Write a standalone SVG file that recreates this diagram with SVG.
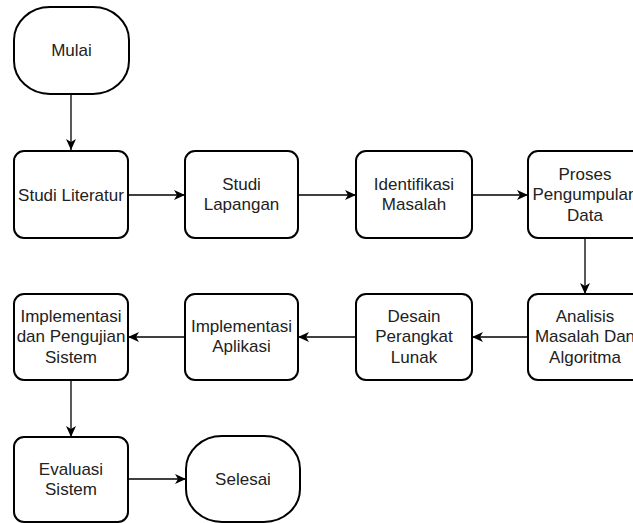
<svg xmlns="http://www.w3.org/2000/svg" width="633" height="523" viewBox="0 0 633 523">
<style>
.n{fill:#fff;stroke:#000;stroke-width:2}
.t{font-family:"Liberation Sans",Arial,sans-serif;font-size:17px;fill:#222;text-anchor:middle}
.c{fill:none;stroke:#000;stroke-width:1.3}
</style>
<defs>
<marker id="a" markerWidth="12" markerHeight="10" refX="11" refY="5" orient="auto" markerUnits="userSpaceOnUse">
<path d="M0,0 L11,5 L0,10 L3,5 Z" fill="#000"/>
</marker>
</defs>
<rect width="633" height="523" fill="#fff"/>
<g id="connectors">
<path class="c" d="M71,94 L71,150" marker-end="url(#a)"/>
<path class="c" d="M128,195 L185,195" marker-end="url(#a)"/>
<path class="c" d="M298,195 L356,195" marker-end="url(#a)"/>
<path class="c" d="M472,195 L528,195" marker-end="url(#a)"/>
<path class="c" d="M585,238 L585,294" marker-end="url(#a)"/>
<path class="c" d="M528,337 L472,337" marker-end="url(#a)"/>
<path class="c" d="M356,337 L298,337" marker-end="url(#a)"/>
<path class="c" d="M185,337 L128,337" marker-end="url(#a)"/>
<path class="c" d="M71,380 L71,437" marker-end="url(#a)"/>
<path class="c" d="M128,479 L186,479" marker-end="url(#a)"/>
</g>
<g id="mulai">
<rect class="n" x="14" y="7" width="115" height="87" rx="36" ry="33"/>
<text class="t" x="71.5" y="56">Mulai</text>
</g>
<g id="studi-literatur">
<rect class="n" x="14" y="151" width="114" height="87" rx="10"/>
<text class="t" x="71" y="201">Studi Literatur</text>
</g>
<g id="studi-lapangan">
<rect class="n" x="185" y="151" width="113" height="87" rx="10"/>
<text class="t" x="241.5" y="190">Studi</text>
<text class="t" x="241.5" y="210">Lapangan</text>
</g>
<g id="identifikasi-masalah">
<rect class="n" x="356" y="151" width="116" height="87" rx="10"/>
<text class="t" x="414" y="190">Identifikasi</text>
<text class="t" x="414" y="210">Masalah</text>
</g>
<g id="proses-pengumpulan-data">
<rect class="n" x="528" y="151" width="114" height="87" rx="10"/>
<text class="t" x="585" y="180">Proses</text>
<text class="t" x="585" y="200">Pengumpulan</text>
<text class="t" x="585" y="221">Data</text>
</g>
<g id="analisis-masalah">
<rect class="n" x="528" y="294" width="114" height="86" rx="10"/>
<text class="t" x="585" y="322">Analisis</text>
<text class="t" x="585" y="342">Masalah Dan</text>
<text class="t" x="585" y="363">Algoritma</text>
</g>
<g id="desain-perangkat-lunak">
<rect class="n" x="356" y="294" width="116" height="86" rx="10"/>
<text class="t" x="414" y="322">Desain</text>
<text class="t" x="414" y="342">Perangkat</text>
<text class="t" x="414" y="363">Lunak</text>
</g>
<g id="implementasi-aplikasi">
<rect class="n" x="185" y="294" width="113" height="86" rx="10"/>
<text class="t" x="241.5" y="332">Implementasi</text>
<text class="t" x="241.5" y="352">Aplikasi</text>
</g>
<g id="implementasi-pengujian">
<rect class="n" x="14" y="294" width="114" height="86" rx="10"/>
<text class="t" x="71" y="322">Implementasi</text>
<text class="t" x="71" y="342">dan Pengujian</text>
<text class="t" x="71" y="363">Sistem</text>
</g>
<g id="evaluasi-sistem">
<rect class="n" x="14" y="437" width="114" height="85" rx="10"/>
<text class="t" x="71" y="475">Evaluasi</text>
<text class="t" x="71" y="495">Sistem</text>
</g>
<g id="selesai">
<rect class="n" x="186" y="436" width="114" height="86" rx="36" ry="33"/>
<text class="t" x="243" y="485">Selesai</text>
</g>
</svg>
